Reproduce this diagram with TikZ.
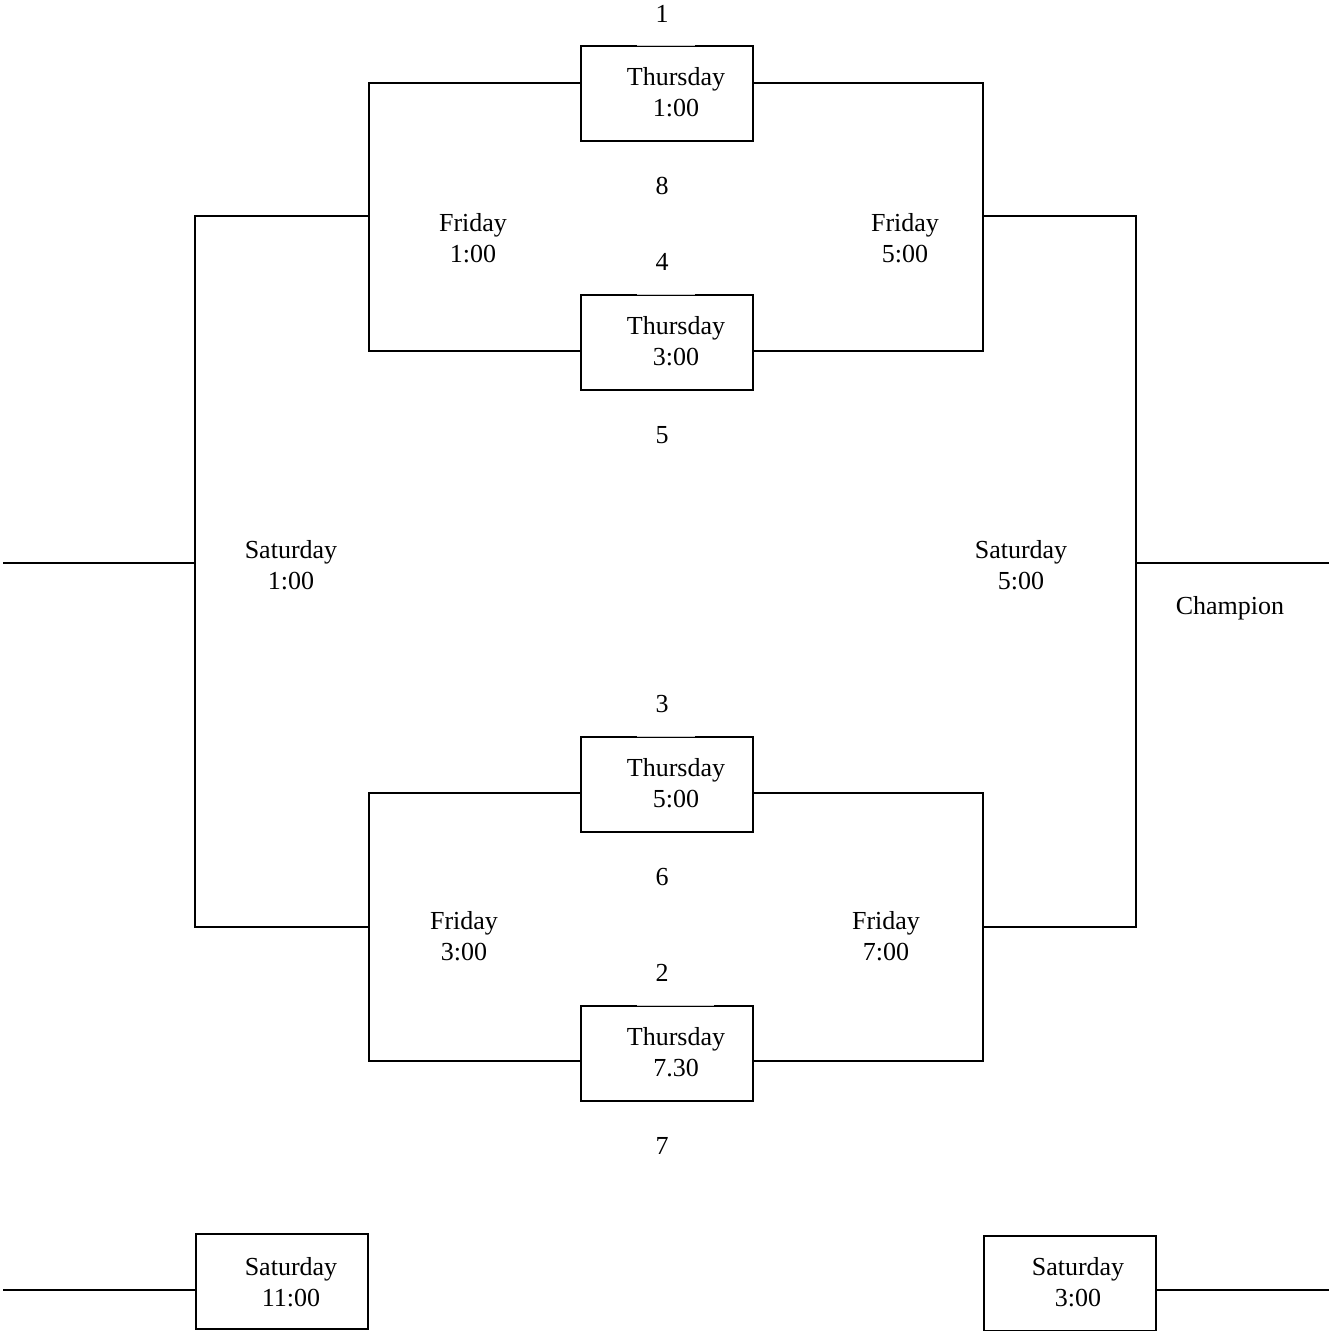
\documentclass[tikz,border=0pt]{standalone}
\usepackage{fontspec}
\setmainfont{Liberation Serif}
\begin{document}
\begin{tikzpicture}[x=0.5pt,y=-0.5pt,
  line width=1pt,
  lbl/.style={inner sep=0pt,align=center,font=\fontsize{13}{15.5}\selectfont},
  gamebox/.style={draw,rectangle,minimum width=86pt,minimum height=47.5pt,inner sep=0pt,anchor=north west},
  gapline/.style={draw=gray!45,line width=0.4pt}]
\useasboundingbox (0,0) rectangle (1340,1331);
% Thursday boxes
\node[gamebox] (b1) at (580,45) {};
\node[gamebox] (b2) at (580,294) {};
\node[gamebox] (b3) at (580,736) {};
\node[gamebox] (b4) at (580,1005) {};
\node[gamebox] (s11) at (195,1233) {};
\node[gamebox] (s3) at (983,1235) {};
% gaps on top edges
\foreach \y/\r in {45/695,294/695,736/695,1005/714}{
  \draw[white,line width=1.4pt] (637,\y) -- (\r,\y);
  \draw[gapline] (637,\y) -- (\r,\y);
}
% texts in boxes
\node[lbl] (t1) at (676,92.5) {Thursday\\1:00};
\node[lbl] (t2) at (676,341.5) {Thursday\\3:00};
\node[lbl] (t3) at (676,783.5) {Thursday\\5:00};
\node[lbl] (t4) at (676,1052.5) {Thursday\\7.30};
\node[lbl] (ts11) at (291,1282.5) {Saturday\\11:00};
\node[lbl] (ts3) at (1078,1282.5) {Saturday\\3:00};
% seeds
\node[lbl] (n1) at (662,14) {1};
\node[lbl] (n8) at (662,186) {8};
\node[lbl] (n4) at (662,262) {4};
\node[lbl] (n5) at (662,435) {5};
\node[lbl] (n3) at (662,704) {3};
\node[lbl] (n6) at (662,877) {6};
\node[lbl] (n2) at (662,973) {2};
\node[lbl] (n7) at (662,1146) {7};
% round labels
\node[lbl] (f1) at (473,238.5) {Friday\\1:00};
\node[lbl] (f5) at (905,238.5) {Friday\\5:00};
\node[lbl] (f3) at (464,936.5) {Friday\\3:00};
\node[lbl] (f7) at (886,936.5) {Friday\\7:00};
\node[lbl] (sa1) at (291,565.5) {Saturday\\1:00};
\node[lbl] (sa5) at (1021,565.5) {Saturday\\5:00};
\node[lbl] (ch) at (1230,608) {Champion};
% corner coordinates
\coordinate (lt) at (369,216);
\coordinate (lb) at (369,927);
\coordinate (rt) at (983,216);
\coordinate (rb) at (983,927);
\coordinate (lm) at (195,563);
\coordinate (rm) at (1136,563);
\coordinate (lend) at (3,563);
\coordinate (rend) at (1329,563);
\coordinate (lend2) at (3,1290);
\coordinate (rend2) at (1329,1290);
% left brackets
\draw (b1.west |- 0,83) -| (lt) |- (b2.west |- 0,351);
\draw (b3.west |- 0,793) -| (lb) |- (b4.west |- 0,1061);
\draw (lt) -| (lm) |- (lb);
\draw (lend) -- (lm);
% right brackets
\draw (b1.east |- 0,83) -| (rt) |- (b2.east |- 0,351);
\draw (b3.east |- 0,793) -| (rb) |- (b4.east |- 0,1061);
\draw (rt) -| (rm) |- (rb);
\draw (rm) -- (rend);
% bottom lines
\draw (lend2) -- (lend2 -| s11.west);
\draw (s3.east |- rend2) -- (rend2);
\end{tikzpicture}
\end{document}
